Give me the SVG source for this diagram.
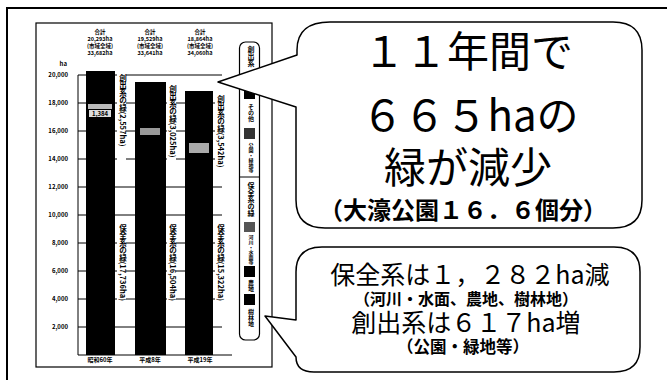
<svg xmlns="http://www.w3.org/2000/svg" width="667" height="380" viewBox="0 0 667 380">
<style>
.outer{fill:none;stroke:#000;stroke-width:2}
.frame{fill:none;stroke:#000;stroke-width:1.2}
.grid{stroke:#000;stroke-width:1}
.bar{fill:#000}
.t{font-family:"Noto Sans CJK JP","Noto Sans",sans-serif;font-weight:bold;fill:#000}
.s6{font-size:6px}
.s5{font-size:5.5px}
.mid{text-anchor:middle}
.end{text-anchor:end}
.vt{writing-mode:vertical-rl;text-orientation:mixed}
.call{fill:#fff;stroke:#000;stroke-width:1.5;stroke-linejoin:round}
.big{font-family:"Noto Sans CJK JP","Noto Sans",sans-serif;text-anchor:middle;fill:#000}
</style>
<rect width="667" height="380" fill="#fff"/>
<path class="outer" d="M7,380 V8 H667"/>

<g id="chart">
  <rect class="frame" x="36" y="23" width="236" height="344"/>
  <g class="t s5 mid">
    <text x="100" y="34">合計</text><text x="100" y="41">20,293ha</text><text x="100" y="48">(市域全域)</text><text x="100" y="55">33,682ha</text>
    <text x="150" y="34">合計</text><text x="150" y="41">19,529ha</text><text x="150" y="48">(市域全域)</text><text x="150" y="55">33,641ha</text>
    <text x="200" y="34">合計</text><text x="200" y="41">18,864ha</text><text x="200" y="48">(市域全域)</text><text x="200" y="55">34,060ha</text>
  </g>
  <g class="t s6 end">
    <text x="67" y="66">ha</text>
    <text x="68" y="77">20,000</text>
    <text x="68" y="105">18,000</text>
    <text x="68" y="133">16,000</text>
    <text x="68" y="161">14,000</text>
    <text x="68" y="189">12,000</text>
    <text x="68" y="217">10,000</text>
    <text x="68" y="245">8,000</text>
    <text x="68" y="273">6,000</text>
    <text x="68" y="301">4,000</text>
    <text x="68" y="329">2,000</text>
  </g>
  <g class="grid">
    <line x1="78" y1="75" x2="78" y2="355"/>
    <line x1="78" y1="75" x2="222" y2="75"/>
    <line x1="78" y1="103" x2="222" y2="103"/>
    <line x1="78" y1="131" x2="222" y2="131"/>
    <line x1="78" y1="159" x2="222" y2="159"/>
    <line x1="78" y1="187" x2="222" y2="187"/>
    <line x1="78" y1="215" x2="222" y2="215"/>
    <line x1="78" y1="243" x2="222" y2="243"/>
    <line x1="78" y1="271" x2="222" y2="271"/>
    <line x1="78" y1="299" x2="222" y2="299"/>
    <line x1="78" y1="327" x2="222" y2="327"/>
    <line x1="78" y1="355" x2="232" y2="355"/>
  </g>
  <g id="bars">
    <rect class="bar" x="86" y="71" width="29" height="284"/>
    <rect class="bar" x="135" y="82" width="31" height="273"/>
    <rect class="bar" x="185" y="91" width="28" height="264"/>
    <rect x="88" y="104" width="24" height="5" fill="#bbb"/>
    <rect x="89" y="110" width="22" height="7" fill="#ddd"/>
    <text class="t mid" x="100" y="116" font-size="6">1,384</text>
    <rect x="140" y="128" width="20" height="7" fill="#999"/>
    <rect x="189" y="143" width="20" height="10" fill="#aaa"/>
  </g>
  <g class="t vt" font-size="7.5">
    <rect x="117" y="72" width="9" height="88" fill="#fff"/>
    <rect x="167" y="83" width="9" height="86" fill="#fff"/>
    <rect x="215" y="93" width="9" height="87" fill="#fff"/>
    <rect x="117" y="222" width="9" height="96" fill="#fff"/>
    <rect x="167" y="222" width="9" height="96" fill="#fff"/>
    <rect x="215" y="222" width="9" height="96" fill="#fff"/>
    <text x="123" y="74">創出系の緑(2,557ha)</text>
    <text x="173" y="85">創出系の緑(3,025ha)</text>
    <text x="221" y="95">創出系の緑(3,542ha)</text>
    <text x="123" y="224">保全系の緑(17,736ha)</text>
    <text x="173" y="224">保全系の緑(16,504ha)</text>
    <text x="221" y="224">保全系の緑(15,322ha)</text>
  </g>
  <g class="t s6 mid">
    <text x="100" y="362">昭和60年</text>
    <text x="150" y="362">平成8年</text>
    <text x="200" y="362">平成19年</text>
  </g>
</g>

<g id="legend">
  <rect class="frame" x="239.5" y="42" width="20" height="298" rx="6"/>
  <line class="grid" x1="239.5" y1="177" x2="259.5" y2="177"/>
  <g class="t vt">
    <text x="251" y="46" font-size="7">創出系</text>
    <rect x="244" y="88" width="11" height="11" fill="#000"/>
    <text x="251" y="104" font-size="6">その他</text>
    <rect x="244" y="128" width="11" height="11" fill="#333"/>
    <text x="251" y="143" font-size="5">公園・緑地等</text>
    <text x="251" y="182" font-size="7">保全系の緑</text>
    <rect x="244" y="222" width="11" height="10" fill="#555"/>
    <text x="251" y="235" font-size="5">河川・水面等</text>
    <rect x="244" y="266" width="11" height="11" fill="#000"/>
    <text x="251" y="280" font-size="6">農地</text>
    <rect x="244" y="294" width="11" height="11" fill="#000"/>
    <text x="251" y="309" font-size="6">樹林地</text>
  </g>
</g>

<g id="callout1">
  <path class="call" d="M218,82 L297,55 L297,50 Q297,22 330,22 L613,22 Q642,22 642,50 L642,200 Q642,228 613,228 L325,228 Q296,228 296,200 L296,107 Z"/>
  <text class="big" x="468" y="67" font-size="42">１１年間で</text>
  <text class="big" x="470" y="131" font-size="42">６６５haの</text>
  <text class="big" x="468" y="183" font-size="42">緑が減少</text>
  <text class="big" x="463" y="219" font-size="24" font-weight="bold">（大濠公園１６．６個分）</text>
</g>

<g id="callout2">
  <path class="call" d="M265,316 L296,320 L296,272 Q296,247 322,247 L614,247 Q640,247 640,272 L640,347 Q640,372 614,372 L314,372 Q296,372 296,357 Z"/>
  <text class="big" x="470" y="284" font-size="25">保全系は１，２８２ha減</text>
  <text class="big" x="466" y="305" font-size="16" font-weight="bold">（河川・水面、農地、樹林地）</text>
  <text class="big" x="466" y="332" font-size="25">創出系は６１７ha増</text>
  <text class="big" x="463" y="353" font-size="16.5" font-weight="bold">（公園・緑地等）</text>
</g>
</svg>
